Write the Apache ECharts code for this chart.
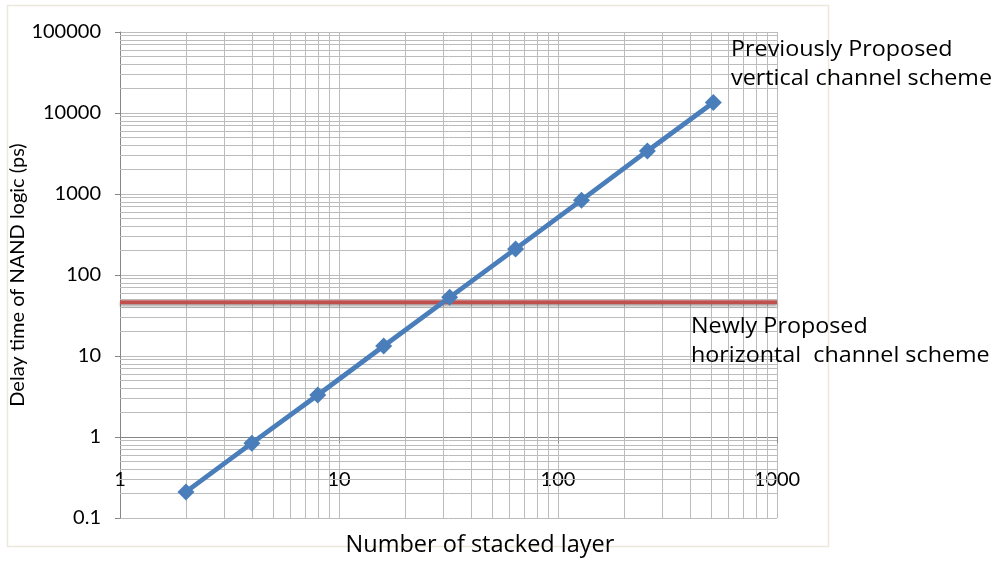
<!DOCTYPE html>
<html><head><meta charset="utf-8">
<script src="https://cdn.jsdelivr.net/npm/echarts@6/dist/echarts.min.js"></script>
<style>html,body{margin:0;padding:0;background:#fff}#c{width:999px;height:561px}</style>
</head><body><div id="c"></div>
<script>
const layers = [2, 4, 8, 16, 32, 64, 128, 256, 512];
const verticalDelay = [0.21, 0.84, 3.3, 13.3, 53, 210, 840, 3400, 13500];
const horizontalDelay = 46;
const horizontalSpan = [1, 1000];
const xDecades = [1, 10, 100];
const yDecades = [0.1, 1, 10, 100, 1000, 10000];
const minorMultipliers = [2, 3, 4, 5, 6, 7, 8, 9];
const labelVertical = ['Previously Proposed', 'vertical channel scheme'];
const labelHorizontal = ['Newly Proposed', 'horizontal  channel scheme'];

const FONT = 'Lato';
const WIDE = '"Open Sans"';
const GRID = '#bcbcbc';
const AXIS = '#868686';

const minorX = [];
xDecades.forEach(d => minorMultipliers.forEach(m => minorX.push({ xAxis: +(d * m).toPrecision(6) })));
const minorY = [];
yDecades.forEach(d => minorMultipliers.forEach(m => minorY.push({ yAxis: +(d * m).toPrecision(6) })));

function fmt(v) {
  return String(+(+v).toPrecision(6));
}

const chart = echarts.init(document.getElementById('c'), null, { renderer: 'canvas' });
chart.setOption({
  backgroundColor: '#fff',
  animation: false,
  textStyle: { fontFamily: FONT },
  grid: { left: 120, top: 32, width: 657, height: 486, containLabel: false, outerBoundsMode: 'none' },
  xAxis: {
    type: 'log', logBase: 10, min: 1, max: 1000,
    position: 'bottom', offset: -81,
    name: 'Number of stacked layer', nameLocation: 'middle', nameGap: 96, nameMoveOverlap: false,
    nameTextStyle: { fontFamily: WIDE, fontSize: 23.5, color: '#000', padding: [0, 0, 0, 63] },
    axisLine: { show: true, lineStyle: { color: AXIS, width: 1 } },
    axisTick: { show: true, length: 6, lineStyle: { color: AXIS } },
    axisLabel: { fontFamily: FONT, fontSize: 20, color: '#000', margin: 33, formatter: fmt, showMinLabel: true, showMaxLabel: true },
    splitLine: { show: true, lineStyle: { color: GRID, width: 1 } },
    minorTick: { show: false }, minorSplitLine: { show: false }
  },
  yAxis: {
    type: 'log', logBase: 10, min: 0.1, max: 100000,
    name: 'Delay time of NAND logic (ps)', nameLocation: 'middle', nameGap: 92, nameMoveOverlap: false,
    nameTextStyle: { fontFamily: FONT, fontSize: 20, color: '#000' },
    axisLine: { show: true, lineStyle: { color: AXIS, width: 1 } },
    axisTick: { show: true, length: 5, lineStyle: { color: AXIS } },
    axisLabel: { fontFamily: FONT, fontSize: 20, color: '#000', margin: 19, formatter: fmt },
    splitLine: { show: true, lineStyle: { color: GRID, width: 1 } },
    minorTick: { show: false }, minorSplitLine: { show: false }
  },
  graphic: [
    { type: 'rect', shape: { x: 7.5, y: 5.5, width: 821, height: 541 }, style: { fill: 'none', stroke: '#ece8dc', lineWidth: 1.5 }, z: -10 },
    { type: 'text', x: 731, y: 35, scaleX: 1.06, style: { text: labelVertical.join('\n'), font: '22px ' + WIDE, fill: '#000', lineHeight: 29 }, z: 10 },
    { type: 'text', x: 691, y: 312, scaleX: 1.06, style: { text: labelHorizontal.join('\n'), font: '22px ' + WIDE, fill: '#000', lineHeight: 29 }, z: 10 }
  ],
  series: [
    {
      name: 'minor grid', type: 'line', data: [], z: 1, silent: true,
      markLine: {
        z: 1, silent: true, symbol: ['none', 'none'], animation: false,
        label: { show: false },
        lineStyle: { color: GRID, width: 1, type: 'solid' },
        emphasis: { disabled: true },
        data: minorX.concat(minorY)
      }
    },
    {
      name: 'Newly Proposed', type: 'line', z: 3,
      data: horizontalSpan.map(x => [x, horizontalDelay]),
      symbol: 'none',
      lineStyle: { color: '#c0504d', width: 4, shadowColor: 'rgba(0,0,0,0.35)', shadowBlur: 3, shadowOffsetY: 2 }
    },
    {
      name: 'Previously Proposed', type: 'line', z: 4,
      data: layers.map((x, i) => [x, verticalDelay[i]]),
      symbol: 'diamond', symbolSize: 17,
      itemStyle: { color: '#4a7ebb' },
      lineStyle: { color: '#4a7ebb', width: 4.8 }
    }
  ]
});
</script></body></html>
